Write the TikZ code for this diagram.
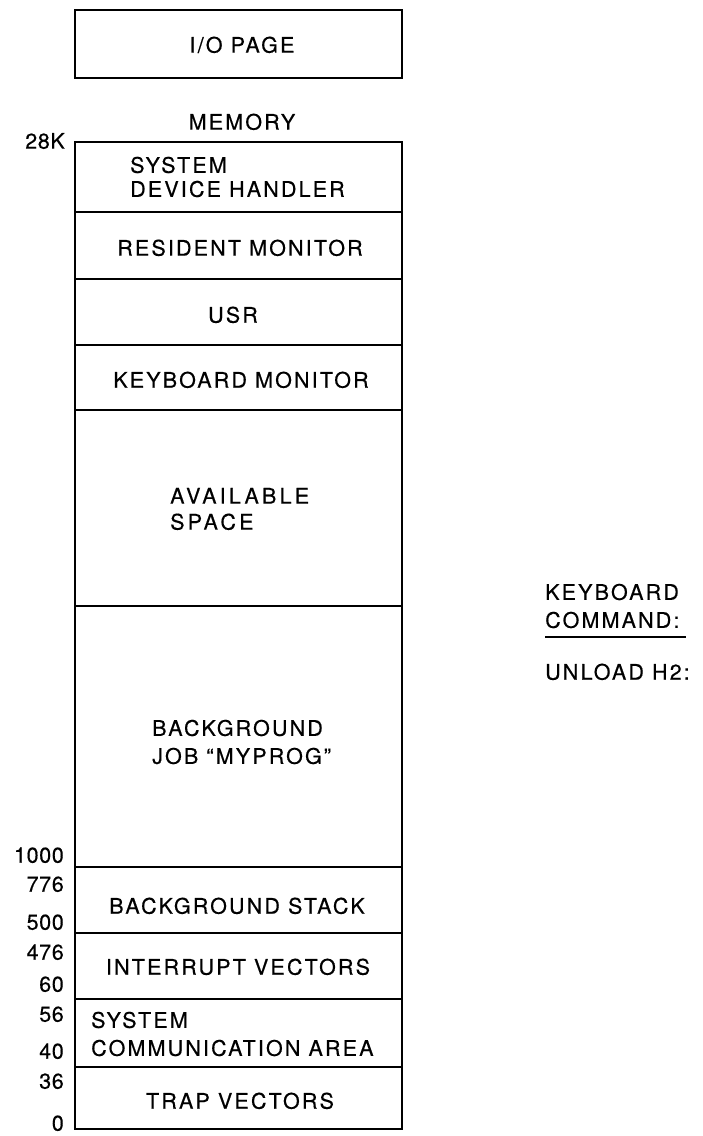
\documentclass[tikz,border=0pt]{standalone}
\usepackage{fontspec}
\setmainfont{TeX Gyre Heros}[LetterSpace=10,FakeBold=0.4]
\newfontfamily\widefont{TeX Gyre Heros}[LetterSpace=15,FakeBold=0.4]
\newfontfamily\numfont{TeX Gyre Heros}[LetterSpace=3,FakeBold=0.4]
\begin{document}
\begin{tikzpicture}[x=1pt,y=-1pt,
  lbl/.style={font=\fontsize{21.5}{28}\selectfont, inner sep=0pt},
  one/.style={lbl, text height=15.4pt, text depth=0pt},
  multi/.style={lbl, align=left},
  num/.style={one, anchor=east, font=\numfont\fontsize{21.5}{28}\selectfont},
  frame/.style={draw, line width=2.6pt, inner sep=0pt, outer sep=0pt, anchor=north west},
  divider/.style={line width=2.3pt}]
\useasboundingbox (0,0) rectangle (702,1136);

% I/O page
\node[frame, minimum width=327pt, minimum height=68pt] (io) at (75,10) {};
\node[one] (iot) at (242,45) {I/O PAGE};

% memory
\node[one] (memt) at (242,122) {MEMORY};
\node[frame, minimum width=327pt, minimum height=987pt] (mem) at (75,142) {};
\foreach \yy [count=\i] in {212,279,345,410,606,867,933,999,1067}
  \draw[divider] (mem.west |- 0,\yy) coordinate (d\i l) -- (mem.east |- 0,\yy) coordinate (d\i r);

\node[multi, anchor=west] (sdh) at (130,177) {SYSTEM\\[-4pt]DEVICE HANDLER};
\node[one] (rm) at (240,248) {RESIDENT MONITOR};
\node[one] (usr) at (233,315) {USR};
\node[one] (km) at (241,380) {KEYBOARD MONITOR};
\node[multi, anchor=west, font=\widefont\fontsize{21.5}{26}\selectfont] (avs) at (170,509) {AVAILABLE\\SPACE};
\node[multi, anchor=west] (bj) at (152,742) {BACKGROUND\\JOB ``MYPROG''};
\node[one] (bs) at (237,906) {BACKGROUND STACK};
\node[one] (iv) at (238,967) {INTERRUPT VECTORS};
\node[multi, anchor=west] (sca) at (91,1034) {SYSTEM\\COMMUNICATION AREA};
\node[one] (tv) at (240,1101) {TRAP VECTORS};

% address labels
\node[num] (a28k) at (65,141) {28K};
\node[num] (a1000) at (64,855) {1000};
\node[num] (a776) at (64,884) {776};
\node[num] (a500) at (64,922) {500};
\node[num] (a476) at (64,952) {476};
\node[num] (a60) at (64,984) {60};
\node[num] (a56) at (64,1014) {56};
\node[num] (a40) at (64,1051) {40};
\node[num] (a36) at (64,1081) {36};
\node[num] (a0) at (64,1123) {0};

% keyboard command
\node[multi, anchor=west] (kc) at (545,606) {KEYBOARD\\COMMAND:};
\draw[line width=1.6pt] (545,637) coordinate (ul1) -- (686,637) coordinate (ul2);
\node[one, anchor=west] (ul) at (545,672) {UNLOAD H2:};
\end{tikzpicture}
\end{document}
